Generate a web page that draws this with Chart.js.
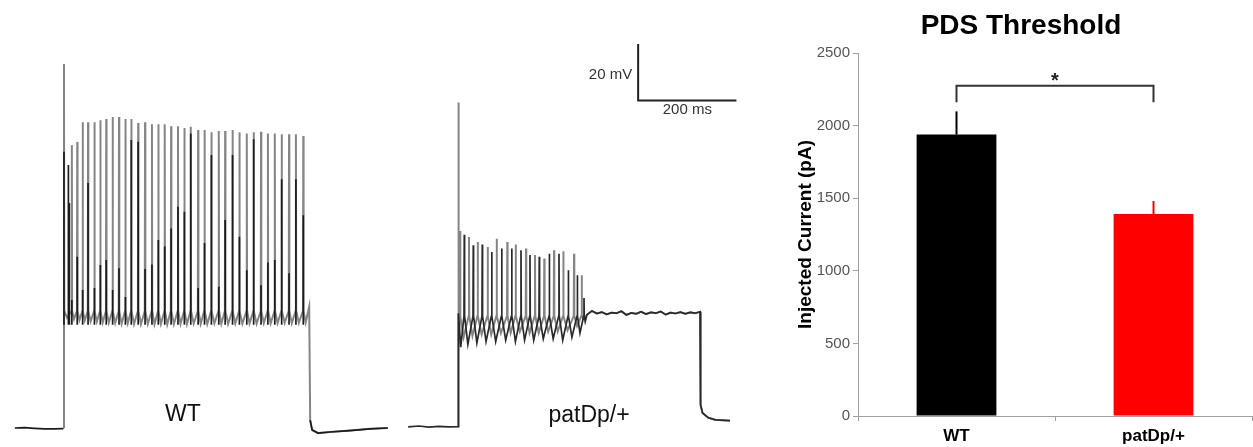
<!DOCTYPE html>
<html>
<head>
<meta charset="utf-8">
<title>PDS Threshold</title>
<script src="https://cdn.jsdelivr.net/npm/chart.js@4.4.1/dist/chart.umd.min.js"></script>
<style>
  html, body { margin: 0; padding: 0; background: #fff; }
  #page { position: relative; width: 1253px; height: 447px; overflow: hidden; background: #fff; }
  canvas { position: absolute; top: 0; }
  #wtTrace { left: 0; }
  #patTrace { left: 400px; }
  #pdsBars { left: 790px; }
</style>
</head>
<body>
<div id="page">
  <canvas id="wtTrace" width="400" height="447"></canvas>
  <canvas id="patTrace" width="390" height="447"></canvas>
  <canvas id="pdsBars" width="463" height="447"></canvas>
</div>
<script>
// ---- bar chart (pA) ----
const groups = ['WT', 'patDp/+'];
const thresholdMean = [1938, 1391];
const thresholdSem = [160, 90];
const barColors = ['#000000', '#ff0000'];
const yTicks = [0, 500, 1000, 1500, 2000, 2500];
const sigBracket = [2275, 2160]; // bracket level, leg end

// ---- WT trace (ms, mV) ----
const wtBaseT = [-100, -80, -60, -40, -20, -1];
const wtBaseV = [-69.9, -69.8, -70.0, -70.2, -70.2, -70.1];
const wtSpikeTimes = [0, 16, 27, 38, 49, 62, 74, 86, 99, 112, 125, 137, 151, 165, 179, 192, 205, 218, 232, 245,
  258, 273, 286, 300, 315, 328, 343, 357, 372, 386, 401, 415, 429, 443, 458, 472, 487];
const wtSpikePeaks = [58.5, 29.9, 31.0, 38.0, 38.0, 38.0, 38.7, 39.1, 39.8, 39.8, 39.1, 39.1, 37.7, 38.0, 37.3, 37.3,
  37.3, 36.6, 36.6, 35.9, 36.4, 35.2, 35.2, 34.4, 34.9, 34.9, 35.2, 34.4, 34.0, 34.4, 34.6, 34.0, 34.0, 33.7, 33.7, 33.7, 33.1];
const wtTroughs = [-31.0, -31.5, -31.8, -32.0, -32.3, -32.4, -32.7, -32.8, -32.9, -33.1, -33.0, -33.2, -33.3, -33.2,
  -33.3, -33.2, -33.4, -33.3, -33.2, -33.3, -33.1, -33.2, -33.2, -33.0, -33.1, -33.2, -33.0, -33.1, -33.0, -33.1,
  -32.9, -33.0, -32.9, -32.8, -32.9, -32.8, -32.7];
const wtCrest = -28.6;
const wtBlackTimes = [0, 9, 11, 16, 27, 38, 49, 62, 74, 86, 99, 112, 125, 137, 151, 165, 179, 192, 205, 218, 232,
  245, 258, 273, 286, 300, 315, 328, 343, 357, 372, 386, 401, 415, 429, 443, 458, 472, 487];
const wtBlackPeaks = [27.6, 22.9, 9.5, -24.7, -9.5, -21.2, 16.5, -20.5, -12.4, -10.6, -21.2, -13.5, -23.7, 31.7,
  31.1, -13.8, -12.2, -3.6, -5.9, 0.5, 8.2, 6.4, 34.0, -20.5, -4.6, 26.4, -20.1, 3.5, 26.4, -2.4, -14.2, 32.0,
  -19.5, -11.5, -10.6, 17.9, -15.3, 17.9, 5.2];
const wtBlackBase = -33.5;
const wtOffT = [499, 501, 505, 517, 541, 582, 623, 659];
const wtOffV = [-27.1, -67.1, -70.6, -71.7, -71.3, -70.8, -70.2, -69.9];

// ---- patDp/+ trace (ms, mV) ----
const patBaseT = [-102, -80, -60, -40, -20, 0];
const patBaseV = [-70.1, -69.8, -70.2, -69.9, -70.1, -70.0];
const patGrayTimes = [0, 3.5, 21.8, 39.5, 59.8, 78.1, 99.7, 116.8, 137.8, 156.1, 175.0, 194.8, 213.7, 235.5, 251.1];
const patGrayPeaks = [44.3, -1.0, -3.1, -4.9, -6.6, -3.7, -4.9, -5.8, -7.2, -9.5, -10.7, -7.8, -8.1, -9.0, -16.6];
const patGrayTroughs = [-43, -38.5, -38, -37.5, -37.5, -37, -37, -36.5, -37, -37, -36.5, -36.5, -36, -34.5, -32];
const patBlackOnsetT = [0, 0.3, 5];
const patBlackOnsetV = [-70, -30, -42];
const patBlackTimes = [12.2, 30.5, 48.8, 68.0, 88.3, 108.7, 127.6, 145.9, 164.8, 185.2, 204.9, 223.9, 242.2, 255.8];
const patBlackPeaks = [-2.3, -6.0, -5.8, -8.4, -7.2, -7.2, -7.8, -9.5, -10.1, -9.0, -9.0, -14.8, -16.6, -24.6];
const patBlackTroughs = [-41, -40.5, -40, -40, -39.5, -40, -39.5, -39.5, -39, -39, -39.5, -38.5, -37, -33];
const patCrest = -31;
const patPlateauT = [262, 272, 282, 292, 302, 312, 322, 332, 342, 352, 362, 372, 382, 392, 402, 412, 422, 432,
  442, 452, 462, 472, 482, 492];
const patPlateauV = [-30.5, -29.2, -30.1, -29.6, -30.4, -29.8, -30.0, -29.3, -30.6, -29.9, -30.2, -29.5, -30.3,
  -29.7, -30.0, -29.4, -30.5, -29.8, -30.1, -29.6, -30.2, -29.7, -30.0, -29.5];
const patOffT = [493, 497, 509, 523, 553];
const patOffV = [-62.3, -65.2, -66.9, -67.6, -67.9];

// scale bar: 20 mV / 200 ms
const scaleBarT = [366, 366, 566];
const scaleBarV = [65, 45, 45];

const FONT = '"Liberation Sans", Arial, sans-serif';

const pts = (ts, vs) => ts.map((t, i) => ({ x: t, y: vs[i] }));

// up-stroke / down-stroke for every spike, AHP trough between spikes
function spikeTrain(times, peaks, troughs, crest, endTime, skipFirstLead) {
  const out = [];
  times.forEach((t, i) => {
    const next = i < times.length - 1 ? times[i + 1] : endTime;
    if (!(i === 0 && skipFirstLead)) out.push({ x: t - 0.6, y: crest });
    out.push({ x: t, y: peaks[i] });
    out.push({ x: t + 0.6, y: crest });
    out.push({ x: t + (next - t) * 0.4, y: troughs[i] });
  });
  return out;
}

// vertical dark segments only (second sweep overlaid on WT)
function spikeSegments(times, peaks, base) {
  const out = [];
  times.forEach((t, i) => {
    out.push({ x: t, y: base }, { x: t, y: peaks[i] }, { x: t, y: null });
  });
  return out;
}

const panelText = (items) => ({
  id: 'panelText',
  afterDraw(chart) {
    const { ctx, scales: { x, y } } = chart;
    ctx.save();
    items.forEach(it => {
      ctx.font = it.font;
      ctx.fillStyle = it.color;
      ctx.textAlign = it.align;
      ctx.textBaseline = it.baseline;
      ctx.fillText(it.text, x.getPixelForValue(it.t) + (it.dx || 0), y.getPixelForValue(it.v) + (it.dy || 0));
    });
    ctx.restore();
  }
});

function traceChart(id, xr, yr, datasets, texts) {
  return new Chart(document.getElementById(id), {
    type: 'line',
    data: { datasets },
    options: {
      responsive: false,
      animation: false,
      spanGaps: false,
      layout: { padding: 0 },
      elements: { point: { radius: 0 }, line: { tension: 0 } },
      plugins: { legend: { display: false }, tooltip: { enabled: false } },
      scales: {
        x: { type: 'linear', display: false, min: xr[0], max: xr[1] },
        y: { type: 'linear', display: false, min: yr[0], max: yr[1] }
      }
    },
    plugins: [panelText(texts)]
  });
}

const gray = '#858585';
const dark = '#1c1c1c';

traceChart('wtTrace', [-130.2, 683.8], [-76.6, 81.1], [
  {
    data: [...pts(wtBaseT, wtBaseV), { x: 0, y: null },
      ...spikeSegments(wtBlackTimes, wtBlackPeaks, wtBlackBase),
      ...pts(wtOffT.slice(1), wtOffV.slice(1))],
    borderColor: dark, borderWidth: 1.7
  },
  {
    data: [{ x: 0, y: -70 }, ...spikeTrain(wtSpikeTimes, wtSpikePeaks, wtTroughs, wtCrest, wtOffT[0], true),
      ...pts(wtOffT, wtOffV)],
    borderColor: gray, borderWidth: 2
  }
], [
  { text: 'WT', t: 242, v: -65.3, font: '23px ' + FONT, color: '#111', align: 'center', baseline: 'middle' }
]);

traceChart('patTrace', [-118.6, 675.0], [-77.2, 80.5], [
  {
    data: pts(scaleBarT, scaleBarV),
    borderColor: '#222', borderWidth: 2
  },
  {
    data: [...pts(patBaseT, patBaseV), ...pts(patBlackOnsetT, patBlackOnsetV),
      ...spikeTrain(patBlackTimes, patBlackPeaks, patBlackTroughs, patCrest, patPlateauT[0], false),
      ...pts(patPlateauT, patPlateauV), ...pts(patOffT, patOffV)],
    borderColor: '#2a2a2a', borderWidth: 1.7
  },
  {
    data: [{ x: 0, y: -70 }, ...spikeTrain(patGrayTimes, patGrayPeaks, patGrayTroughs, patCrest, patPlateauT[0], true),
      ...pts(patPlateauT, patPlateauV), ...pts(patOffT, patOffV)],
    borderColor: gray, borderWidth: 2
  }
], [
  { text: 'patDp/+', t: 266, v: -66.3, font: '23px ' + FONT, color: '#111', align: 'center', baseline: 'middle' },
  { text: '20 mV', t: scaleBarT[0], v: 55, dx: -6, dy: 3, font: '15px ' + FONT, color: '#333', align: 'right', baseline: 'middle' },
  { text: '200 ms', t: (scaleBarT[1] + scaleBarT[2]) / 2, v: scaleBarV[2], dy: 2, font: '15px ' + FONT, color: '#333', align: 'center', baseline: 'top' }
]);

// error bars (upper SEM only) and the significance bracket
const barExtras = {
  id: 'barExtras',
  afterDatasetsDraw(chart) {
    const { ctx, scales: { y } } = chart;
    const bars = chart.getDatasetMeta(0).data;
    ctx.save();
    ctx.lineWidth = 2;
    bars.forEach((bar, i) => {
      ctx.strokeStyle = barColors[i];
      ctx.beginPath();
      ctx.moveTo(bar.x, y.getPixelForValue(thresholdMean[i]));
      ctx.lineTo(bar.x, y.getPixelForValue(thresholdMean[i] + thresholdSem[i]));
      ctx.stroke();
    });
    const top = y.getPixelForValue(sigBracket[0]);
    const leg = y.getPixelForValue(sigBracket[1]);
    ctx.strokeStyle = '#333';
    ctx.beginPath();
    ctx.moveTo(bars[0].x, leg);
    ctx.lineTo(bars[0].x, top);
    ctx.lineTo(bars[1].x, top);
    ctx.lineTo(bars[1].x, leg);
    ctx.stroke();
    ctx.fillStyle = '#222';
    ctx.font = 'bold 20px ' + FONT;
    ctx.textAlign = 'center';
    ctx.textBaseline = 'alphabetic';
    ctx.fillText('*', (bars[0].x + bars[1].x) / 2, top + 1);
    ctx.restore();
  }
};

const axisGray = '#a0a0a0';

new Chart(document.getElementById('pdsBars'), {
  type: 'bar',
  data: {
    labels: groups,
    datasets: [{
      data: thresholdMean,
      backgroundColor: barColors,
      categoryPercentage: 1,
      barPercentage: 0.405
    }]
  },
  options: {
    responsive: false,
    animation: false,
    layout: { padding: { left: 0, right: 1, top: 0, bottom: 0 } },
    plugins: {
      legend: { display: false },
      tooltip: { enabled: false },
      title: {
        display: true,
        text: 'PDS Threshold',
        color: '#000',
        font: { family: FONT, size: 28, weight: 'bold' },
        padding: { top: 9, bottom: 10.4 }
      }
    },
    scales: {
      x: {
        grid: { drawOnChartArea: false, tickLength: 5, color: axisGray },
        border: { color: axisGray, width: 1 },
        ticks: { color: '#000', font: { family: FONT, size: 17, weight: 'bold' }, padding: 5 },
        afterFit: s => { s.height = 31; }
      },
      y: {
        min: 0,
        max: 2500,
        afterBuildTicks: s => { s.ticks = yTicks.map(v => ({ value: v })); },
        grid: { drawOnChartArea: false, tickLength: 5, color: axisGray },
        border: { color: axisGray, width: 1 },
        ticks: { color: '#555', font: { family: FONT, size: 15 }, padding: 3, callback: v => String(v) },
        title: {
          display: true,
          text: 'Injected Current (pA)',
          color: '#000',
          font: { family: FONT, size: 19, weight: 'bold' },
          padding: { top: 4, bottom: 0 }
        },
        afterFit: s => { s.width = 68; }
      }
    }
  },
  plugins: [barExtras]
});
</script>
</body>
</html>
